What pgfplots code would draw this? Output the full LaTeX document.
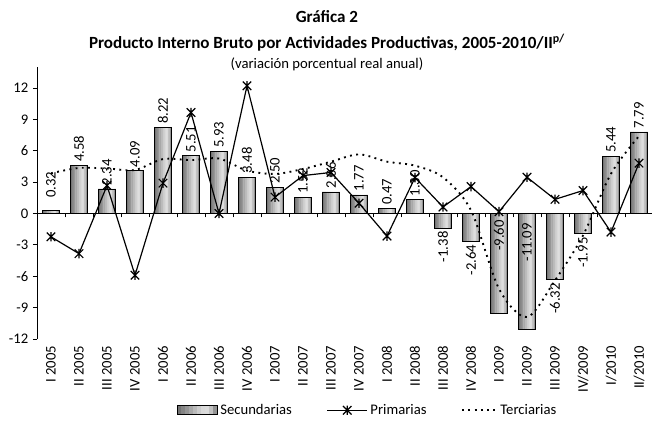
\documentclass[border=0pt]{standalone}
\usepackage{pgfplots}
\pgfplotsset{compat=1.18}
\usepackage{fontspec}
\setmainfont{Carlito}

\pgfdeclareplotmark{xstar}{%
  \pgfpathmoveto{\pgfqpoint{-\pgfplotmarksize}{-\pgfplotmarksize}}%
  \pgfpathlineto{\pgfqpoint{\pgfplotmarksize}{\pgfplotmarksize}}%
  \pgfpathmoveto{\pgfqpoint{-\pgfplotmarksize}{\pgfplotmarksize}}%
  \pgfpathlineto{\pgfqpoint{\pgfplotmarksize}{-\pgfplotmarksize}}%
  \pgfpathmoveto{\pgfqpoint{0pt}{-1.1\pgfplotmarksize}}%
  \pgfpathlineto{\pgfqpoint{0pt}{1.1\pgfplotmarksize}}%
  \pgfusepathqstroke}

\pgfplotstableread{
x sec pri ter
0 0.32 -2.23 3.84
1 4.58 -3.84 4.35
2 2.34 2.67 4.30
3 4.09 -5.90 4.16
4 8.22 2.90 5.20
5 5.51 9.65 5.10
6 5.93 0.00 5.25
7 3.48 12.20 4.10
8 2.50 1.56 3.78
9 1.52 3.62 4.25
10 2.06 3.92 4.95
11 1.77 0.98 5.65
12 0.47 -2.16 4.95
13 1.30 3.43 4.57
14 -1.38 0.62 3.46
15 -2.64 2.57 0.30
16 -9.60 0.17 -7.20
17 -11.09 3.46 -9.90
18 -6.32 1.35 -6.40
19 -1.95 2.19 -2.10
20 5.44 -1.78 3.80
21 7.79 4.81 7.40
}\datatable

\pgfplotstableread{
x y lab
0 1.15 0.32
1 4.58 4.58
2 2.34 2.34
3 4.09 4.09
4 8.22 8.22
5 5.51 5.51
6 5.93 5.93
7 3.48 3.48
8 2.50 2.50
9 1.52 1.52
10 2.06 2.06
11 1.77 1.77
12 0.47 0.47
13 1.30 1.30
20 5.44 5.44
21 7.79 7.79
}\labpos

\pgfplotstableread{
x y lab
14 -1.38 -1.38
15 -2.64 -2.64
16 -0.30 -9.60
17 -0.60 -11.09
18 -6.32 -6.32
19 -1.95 -1.95
}\labneg

\pgfplotsset{
  secleg/.style={legend image code/.code={%
    \foreach \c [count=\k] in {55,48,41,34,27,20,15,14,24,42}{\fill[black!\c] ({(\k-1)*3pt},-3.3pt) rectangle ({\k*3pt+0.15pt},3.3pt);}%
    \draw[black, line width=0.6pt] (0pt,-3.3pt) rectangle (30pt,3.3pt);}},
  prileg/.style={legend image code/.code={\draw[black, line width=0.9pt] (0pt,0pt) -- (30pt,0pt); \draw[black, line width=0.9pt] plot[mark=xstar, mark size=3.2pt] coordinates {(15pt,0pt)};}},
  terleg/.style={legend image code/.code={\draw[black, line width=1.4pt, line cap=butt, dash pattern=on 1.4pt off 3.3pt] (0pt,0pt) -- (26pt,0pt);}},
  stripe/.style={ybar, bar width=1.45pt, draw=none, fill=black!#1, forget plot, mark=none},
}

\begin{document}
\begin{tikzpicture}[x=1pt,y=1pt]
\path[use as bounding box] (-27.75pt,-65.25pt) rectangle (461.25pt,254.25pt);
\begin{axis}[
  at={(0pt,0pt)}, anchor=south west,
  scale only axis, width=462pt, height=204pt,
  xmin=-0.5, xmax=21.5, ymin=-12, ymax=14,
  clip=false,
  axis lines*=left,
  x axis line style={draw=none},
  y axis line style={black, line width=0.6pt},
  xtick={0,...,21},
  xticklabels={I 2005,II 2005,III 2005,IV 2005,I 2006,II 2006,III 2006,IV 2006,I 2007,II 2007,III 2007,IV 2007,I 2008,II 2008,III 2008,IV 2008,I 2009,II 2009,III 2009,IV/2009,I/2010,II/2010},
  xtick style={draw=none},
  xticklabel style={rotate=90, anchor=east, font=\fontsize{11}{13}\selectfont, inner sep=2pt},
  ytick={-12,-9,-6,-3,0,3,6,9,12},
  yticklabels={-12,-9,-6,-3,0,3,6,9,12},
  yticklabel style={font=\fontsize{11}{13}\selectfont},
  ytick style={black, line width=0.6pt},
  tick align=outside,
  major tick length=3pt,
  legend style={at={(axis description cs:0.537,-0.262)}, anchor=center, draw=none,
    font=\fontsize{11}{13}\selectfont, legend columns=3,
    /tikz/every even column/.append style={column sep=24pt},
    inner sep=0pt},
]
\addplot[stripe=55, bar shift=-5.94pt] table[x=x, y=sec] {\datatable};
\addplot[stripe=48, bar shift=-4.62pt] table[x=x, y=sec] {\datatable};
\addplot[stripe=41, bar shift=-3.30pt] table[x=x, y=sec] {\datatable};
\addplot[stripe=34, bar shift=-1.98pt] table[x=x, y=sec] {\datatable};
\addplot[stripe=27, bar shift=-0.66pt] table[x=x, y=sec] {\datatable};
\addplot[stripe=20, bar shift=0.66pt] table[x=x, y=sec] {\datatable};
\addplot[stripe=15, bar shift=1.98pt] table[x=x, y=sec] {\datatable};
\addplot[stripe=14, bar shift=3.30pt] table[x=x, y=sec] {\datatable};
\addplot[stripe=24, bar shift=4.62pt] table[x=x, y=sec] {\datatable};
\addplot[stripe=42, bar shift=5.94pt] table[x=x, y=sec] {\datatable};
\addplot[ybar, bar width=13.2pt, bar shift=0pt, draw=black, fill=none, line width=0.6pt, secleg]
  table[x=x, y=sec] {\datatable};
\addlegendentry{Secundarias}

\addplot[black, line width=0.9pt, mark=xstar, mark size=3.2pt, mark options={solid, line width=0.9pt}, prileg]
  table[x=x, y=pri] {\datatable};
\addlegendentry{Primarias}

\addplot[black, line width=1.4pt, smooth, tension=0.5, mark=none, line cap=butt, dash pattern=on 1.4pt off 3.3pt, terleg]
  table[x=x, y=ter] {\datatable};
\addlegendentry{Terciarias}

\addplot[draw=none, mark=none, forget plot, nodes near coords, point meta=explicit symbolic,
  every node near coord/.append style={rotate=90, anchor=west, font=\fontsize{11}{13}\selectfont, inner sep=2.5pt, black}]
  table[x=x, y=y, meta=lab] {\labpos};
\addplot[draw=none, mark=none, forget plot, nodes near coords, point meta=explicit symbolic,
  every node near coord/.append style={rotate=90, anchor=east, font=\fontsize{11}{13}\selectfont, inner sep=2.5pt, black}]
  table[x=x, y=y, meta=lab] {\labneg};

\draw[black, line width=0.6pt] (axis cs:-0.5,0) -- (axis cs:21.5,0);
\pgfplotsinvokeforeach{0,...,20}{\draw[black, line width=0.6pt] ([yshift=-3pt]axis cs:#1.5,0) -- (axis cs:#1.5,0);}
\end{axis}
\node[anchor=base, font=\bfseries\fontsize{12.8}{15}\selectfont] at (217.5pt,237.2pt) {Gráfica 2};
\node[anchor=base, font=\bfseries\fontsize{12.8}{15}\selectfont] at (217.5pt,218pt) {Producto Interno Bruto por Actividades Productivas, 2005-2010/II\textsuperscript{p/}};
\node[anchor=base, font=\fontsize{11}{13}\selectfont] at (217.5pt,203pt) {(variación porcentual real anual)};
\end{tikzpicture}
\end{document}
